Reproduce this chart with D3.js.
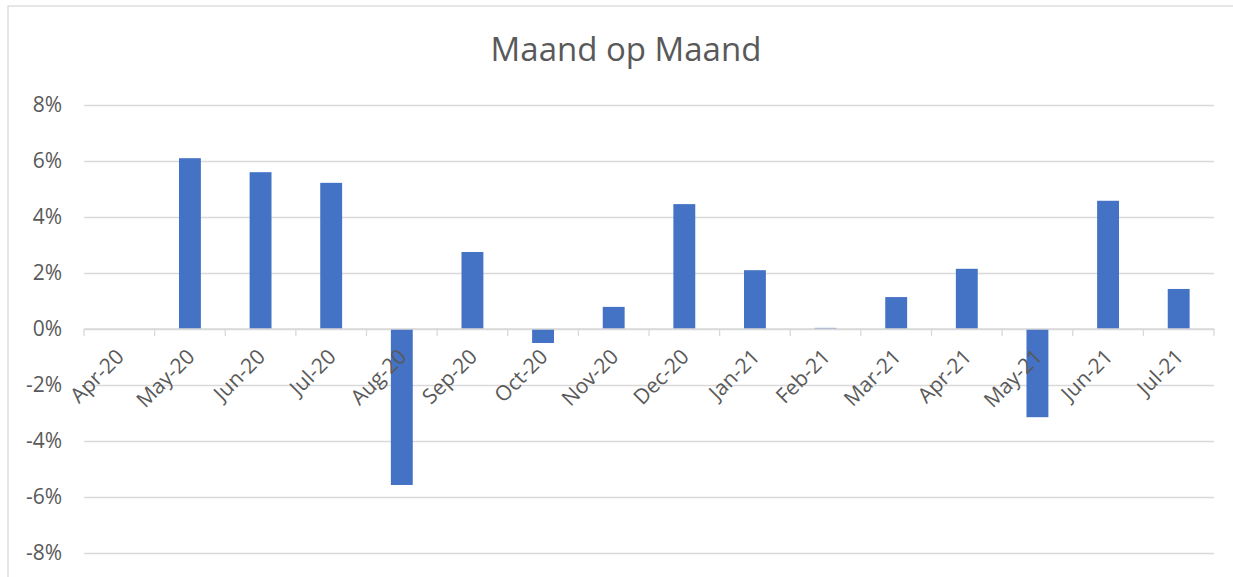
<!DOCTYPE html>
<html lang="nl">
<head>
<meta charset="utf-8">
<title>Maand op Maand</title>
<script src="https://cdn.jsdelivr.net/npm/d3@7"></script>
<style>
  body { margin: 0; background: #fff; }
  text { font-family: "Open Sans", sans-serif; fill: #595959; }
  .grid line { stroke: #d9d9d9; stroke-width: 1.3px; }
  .grid path { display: none; }
  .axeY path, .axeY line { display: none; }
  .axeX path, .axeX line { stroke: #d9d9d9; stroke-width: 1.3px; }
  .bar { fill: #4472c4; }
</style>
</head>
<body>
<svg width="1233" height="577"></svg>
<script>
// données
const maanden = ["Apr-20", "May-20", "Jun-20", "Jul-20", "Aug-20", "Sep-20", "Oct-20", "Nov-20",
                 "Dec-20", "Jan-21", "Feb-21", "Mar-21", "Apr-21", "May-21", "Jun-21", "Jul-21"];
const waarden = [0, 0.061, 0.056, 0.0522, -0.0557, 0.0275, -0.005, 0.0079,
                 0.0446, 0.021, 0.0004, 0.0114, 0.0215, -0.0315, 0.0458, 0.0143];
const yTicks = [-0.08, -0.06, -0.04, -0.02, 0, 0.02, 0.04, 0.06, 0.08];

const svg = d3.select("svg");

// cadre
svg.append("rect")
  .attr("x", 8).attr("y", 6)
  .attr("width", 1240).attr("height", 600)
  .attr("fill", "none")
  .attr("stroke", "#d9d9d9")
  .attr("stroke-width", 1.3);

const x = d3.scaleBand().domain(maanden).range([84, 1214]).padding(0);
const y = d3.scaleLinear().domain([-0.08, 0.08]).range([553, 105]);

// grille
svg.append("g")
  .classed("grid", true)
  .attr("transform", "translate(84,0)")
  .call(d3.axisLeft(y).tickValues(yTicks).tickSize(-1130).tickFormat(""));

// axe Y
svg.append("g")
  .classed("axeY", true)
  .attr("transform", "translate(84,0)")
  .call(d3.axisLeft(y).tickValues(yTicks).tickSize(0).tickPadding(22)
    .tickFormat(d => d3.format(".0%")(d).replace("−", "-")))
  .selectAll("text")
  .style("font-size", "21px");

// barres
const bw = x.bandwidth() * 0.31;
svg.selectAll("rect.bar")
  .data(waarden)
  .enter()
  .append("rect")
  .classed("bar", true)
  .attr("x", (d, i) => x(maanden[i]) + (x.bandwidth() - bw) / 2)
  .attr("width", bw)
  .attr("y", d => y(Math.max(0, d)))
  .attr("height", d => Math.abs(y(d) - y(0)));

// axe X au niveau zéro
const axeX = svg.append("g")
  .classed("axeX", true)
  .attr("transform", "translate(0," + y(0) + ")");
axeX.append("path")
  .attr("d", "M84,0H1214");
axeX.selectAll("line.tick")
  .data(d3.range(maanden.length + 1))
  .enter()
  .append("line")
  .attr("x1", i => 84 + i * x.step())
  .attr("x2", i => 84 + i * x.step())
  .attr("y1", 0).attr("y2", 7);
axeX.selectAll("text")
  .data(maanden)
  .enter()
  .append("text")
  .text(d => d)
  .style("font-size", "21px")
  .style("text-anchor", "end")
  .attr("transform", d => "translate(" + (x(d) + x.bandwidth() / 2 + 6) + ",29) rotate(-45)");

// titre
svg.append("text")
  .text("Maand op Maand")
  .attr("x", 626)
  .attr("y", 61)
  .style("text-anchor", "middle")
  .style("font-size", "33px");
</script>
</body>
</html>
